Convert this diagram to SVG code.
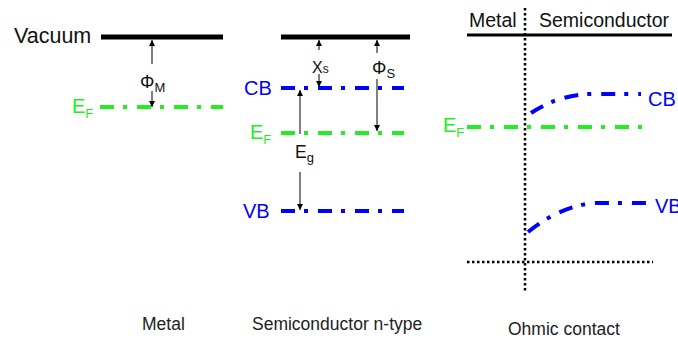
<svg xmlns="http://www.w3.org/2000/svg" width="678" height="339" viewBox="0 0 678 339">
<defs>
<style>
text{font-family:"Liberation Sans",Arial,sans-serif}
.vac{stroke:#000;stroke-width:5;fill:none}
.ef{stroke:#22ee22;stroke-width:4;fill:none;stroke-dasharray:14 9 4 10}
.band{stroke:#0000ff;stroke-width:4;fill:none;stroke-dasharray:14 9 4 10}
.lbl{font-size:20px}
.blue{fill:#0000ff}
.green{fill:#22ee22}
.dark{fill:#111}
.cap{font-size:17.5px;fill:#222}
.arr{stroke:#000;stroke-width:1;fill:none}
.dot{stroke:#000;stroke-width:2.5;fill:none;stroke-dasharray:2.5 2.5}
</style>
<marker id="ah" viewBox="0 0 10 10" refX="10" refY="5" markerWidth="6" markerHeight="8" markerUnits="userSpaceOnUse" orient="auto">
<path d="M0,0 L10,5 L0,10 z" fill="#000"/>
</marker>
</defs>

<g id="metal">
<text x="14" y="43" class="dark" font-size="21.5">Vacuum</text>
<line x1="101" y1="37" x2="223" y2="37" class="vac"/>
<line x1="100" y1="107" x2="223" y2="107" class="ef"/>
<text x="72" y="113" class="green" font-size="20">E<tspan font-size="13" dy="5">F</tspan></text>
<text x="140" y="88" class="dark" font-size="18">Φ<tspan font-size="13" dy="4">M</tspan></text>
</g>

<g id="semiconductor">
<line x1="281" y1="37" x2="410" y2="37" class="vac"/>
<line x1="281" y1="88" x2="404" y2="88" class="band"/>
<text x="244" y="95" class="blue lbl">CB</text>
<line x1="281" y1="133" x2="404" y2="133" class="ef"/>
<text x="250" y="139" class="green" font-size="20">E<tspan font-size="13" dy="5">F</tspan></text>
<line x1="281" y1="211" x2="404" y2="211" class="band"/>
<text x="243" y="218" class="blue lbl">VB</text>
<text x="312" y="73" class="dark" font-size="16">Χ<tspan font-size="12">s</tspan></text>
<text x="372" y="74" class="dark" font-size="18">Φ<tspan font-size="13" dy="4">S</tspan></text>
<text x="295" y="158" class="dark" font-size="17.5">E<tspan font-size="13" dy="4">g</tspan></text>
</g>

<g id="ohmic">
<text x="469" y="27" class="dark" font-size="19.5">Metal</text>
<text x="539" y="27" class="dark" font-size="19.5">Semiconductor</text>
<line x1="467" y1="35" x2="672" y2="35" stroke="#000" stroke-width="3"/>
<line x1="525" y1="8" x2="525" y2="292" class="dot"/>
<line x1="467" y1="262" x2="653" y2="262" class="dot"/>
<line x1="467" y1="127" x2="645" y2="127" class="ef"/>
<text x="443" y="132" class="green" font-size="20">E<tspan font-size="13" dy="5">F</tspan></text>
<path d="M531,113 Q558,95 590,94 L641,94" class="band"/>
<text x="648" y="106" class="blue lbl">CB</text>
<path d="M528,232 Q560,206 595,203 L649,203" class="band"/>
<text x="655" y="213" class="blue lbl">VB</text>
</g>

<g id="captions">
<text x="142" y="330" class="cap">Metal</text>
<text x="252" y="330" class="cap">Semiconductor n-type</text>
<text x="508" y="335" class="cap">Ohmic contact</text>
</g>

<g id="connectors">
<line x1="152" y1="64" x2="152" y2="40" class="arr" marker-end="url(#ah)"/>
<line x1="152" y1="91" x2="152" y2="107" class="arr" marker-end="url(#ah)"/>
<line x1="319" y1="50" x2="319" y2="40" class="arr" marker-end="url(#ah)"/>
<line x1="319" y1="74" x2="319" y2="87" class="arr" marker-end="url(#ah)"/>
<line x1="377" y1="53" x2="377" y2="40" class="arr" marker-end="url(#ah)"/>
<line x1="377" y1="79" x2="377" y2="131" class="arr" marker-end="url(#ah)"/>
<line x1="300" y1="134" x2="300" y2="90" class="arr" marker-end="url(#ah)"/>
<line x1="300" y1="172" x2="300" y2="210" class="arr" marker-end="url(#ah)"/>
</g>
</svg>
